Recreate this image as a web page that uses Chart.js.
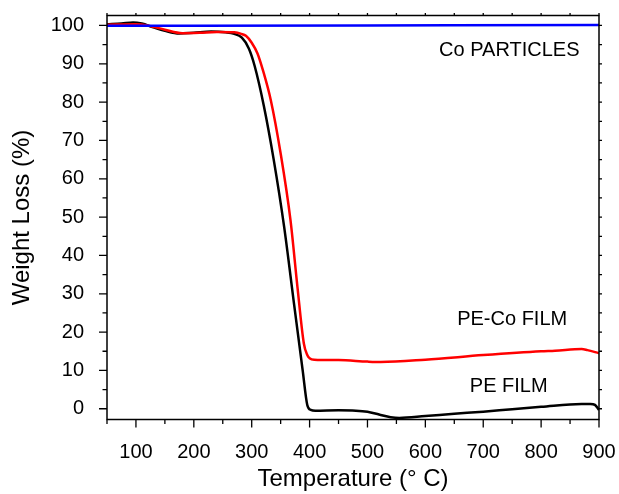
<!DOCTYPE html>
<html>
<head>
<meta charset="utf-8">
<script src="https://cdn.jsdelivr.net/npm/chart.js@4.4.0/dist/chart.umd.min.js"></script>
<style>
  html, body { margin: 0; padding: 0; background: #fff; }
  #wrap { width: 619px; height: 494px; }
</style>
</head>
<body>
<div id="wrap"><canvas id="tgaChart" width="619" height="494"></canvas></div>
<script>
// TGA curves
const peTemps   = [50, 75, 95, 110, 130, 150, 175, 200, 230, 255, 270, 283, 295, 305, 321, 338, 356, 373, 388, 396, 402, 410, 450, 480, 500, 520, 540, 555, 600, 650, 700, 750, 800, 870, 885, 893, 900];
const peWeight  = [100.3, 100.5, 100.8, 100.5, 99.5, 98.6, 97.9, 98.1, 98.4, 98.2, 97.8, 96.8, 94.0, 89.5, 79.0, 65.0, 47.5, 27.5, 10.1, 1.0, -0.3, -0.5, -0.4, -0.5, -0.8, -1.5, -2.2, -2.4, -1.9, -1.3, -0.75, -0.1, 0.5, 1.25, 1.25, 1.0, -0.3];

const pecoTemps  = [50, 100, 120, 150, 180, 210, 240, 270, 282, 290, 300, 310, 320, 333, 350, 367, 379, 390, 396, 400, 408, 450, 500, 523, 600, 700, 800, 824, 870, 880, 900];
const pecoWeight = [100.2, 100.3, 100.0, 98.9, 98.0, 98.1, 98.3, 98.2, 97.8, 97.3, 95.5, 92.7, 88.0, 80.5, 66.6, 49.2, 31.8, 17.1, 14.0, 13.2, 12.8, 12.7, 12.3, 12.2, 12.8, 14.0, 15.0, 15.15, 15.6, 15.3, 14.5];

const coTemps   = [50, 500, 900];
const coWeight  = [99.9, 100.0, 100.1];

const xMin = 50, xMax = 900, xStep = 50, xLabelEvery = 100;
const yMin = -2.8, yMax = 102.6, yStep = 5, yLabelEvery = 10;

// curve labels, placed in data units
const curveLabels = ['Co PARTICLES', 'PE-Co FILM', 'PE FILM'];
const labelX = [745, 750, 744];
const labelY = [93.6, 23.4, 5.9];

function toPoints(xs, ys) {
    return xs.map((x, i) => ({ x: x, y: ys[i] }));
}

const FONT = 'Arial, "Liberation Sans", sans-serif';

// frame, major/minor ticks and curve labels
const framePlugin = {
    id: 'frame',
    afterDraw(chart) {
        const { ctx, chartArea: a, scales: { x, y } } = chart;
        ctx.save();
        ctx.strokeStyle = '#000';
        ctx.lineWidth = 1.5;
        ctx.strokeRect(a.left, a.top, a.right - a.left, a.bottom - a.top);

        ctx.lineWidth = 1.3;
        ctx.beginPath();
        x.ticks.forEach(t => {
            const px = x.getPixelForValue(t.value);
            const major = t.value % xLabelEvery === 0;
            ctx.moveTo(px, a.bottom);
            ctx.lineTo(px, a.bottom + (major ? 8 : 4.5));
            ctx.moveTo(px, a.top);
            ctx.lineTo(px, a.top - 2.5);
        });
        y.ticks.forEach(t => {
            const py = y.getPixelForValue(t.value);
            const major = t.value % yLabelEvery === 0;
            ctx.moveTo(a.left, py);
            ctx.lineTo(a.left - (major ? 8 : 4.5), py);
            ctx.moveTo(a.right, py);
            ctx.lineTo(a.right + 3, py);
        });
        ctx.stroke();

        ctx.fillStyle = '#000';
        ctx.font = '20px ' + FONT;
        ctx.textAlign = 'center';
        ctx.textBaseline = 'middle';
        curveLabels.forEach((txt, i) => {
            ctx.fillText(txt, x.getPixelForValue(labelX[i]), y.getPixelForValue(labelY[i]));
        });
        ctx.restore();
    }
};

const ctx = document.getElementById('tgaChart');
new Chart(ctx, {
    type: 'line',
    data: {
        datasets: [
            {
                label: 'Co PARTICLES',
                data: toPoints(coTemps, coWeight),
                borderColor: '#0000ff',
                borderWidth: 2.5,
                order: 0
            },
            {
                label: 'PE-Co FILM',
                data: toPoints(pecoTemps, pecoWeight),
                borderColor: '#ff0000',
                borderWidth: 2.5,
                order: 1
            },
            {
                label: 'PE FILM',
                data: toPoints(peTemps, peWeight),
                borderColor: '#000000',
                borderWidth: 2.5,
                order: 2
            }
        ]
    },
    options: {
        responsive: false,
        animation: false,
        layout: { padding: { top: 15.5, right: 20, left: 0, bottom: 0 } },
        elements: {
            point: { radius: 0 },
            line: { cubicInterpolationMode: 'monotone', fill: false }
        },
        plugins: {
            legend: { display: false },
            tooltip: { enabled: false }
        },
        scales: {
            x: {
                type: 'linear',
                min: xMin,
                max: xMax,
                grid: { display: false },
                border: { display: false },
                ticks: {
                    stepSize: xStep,
                    includeBounds: false,
                    autoSkip: false,
                    maxRotation: 0,
                    padding: 13,
                    color: '#000',
                    font: { family: FONT, size: 20 },
                    callback: v => (v % xLabelEvery === 0 ? v : '')
                },
                title: {
                    display: true,
                    text: 'Temperature (° C)',
                    color: '#000',
                    font: { family: FONT, size: 24 },
                    padding: { top: 0, bottom: 0 }
                },
                afterFit: s => {
                    s.height = 74.5;
                    s.paddingLeft = 0;
                    s.paddingRight = 0;
                }
            },
            y: {
                min: yMin,
                max: yMax,
                grid: { display: false },
                border: { display: false },
                ticks: {
                    stepSize: yStep,
                    includeBounds: false,
                    autoSkip: false,
                    padding: 15,
                    color: '#000',
                    font: { family: FONT, size: 20 },
                    callback: v => (v % yLabelEvery === 0 ? v : '')
                },
                title: {
                    display: true,
                    text: 'Weight Loss (%)',
                    color: '#000',
                    font: { family: FONT, size: 24 },
                    padding: { top: 8, bottom: 0 }
                },
                afterFit: s => {
                    s.width = 107;
                    s.paddingTop = 0;
                    s.paddingBottom = 0;
                }
            }
        }
    },
    plugins: [framePlugin]
});
</script>
</body>
</html>
